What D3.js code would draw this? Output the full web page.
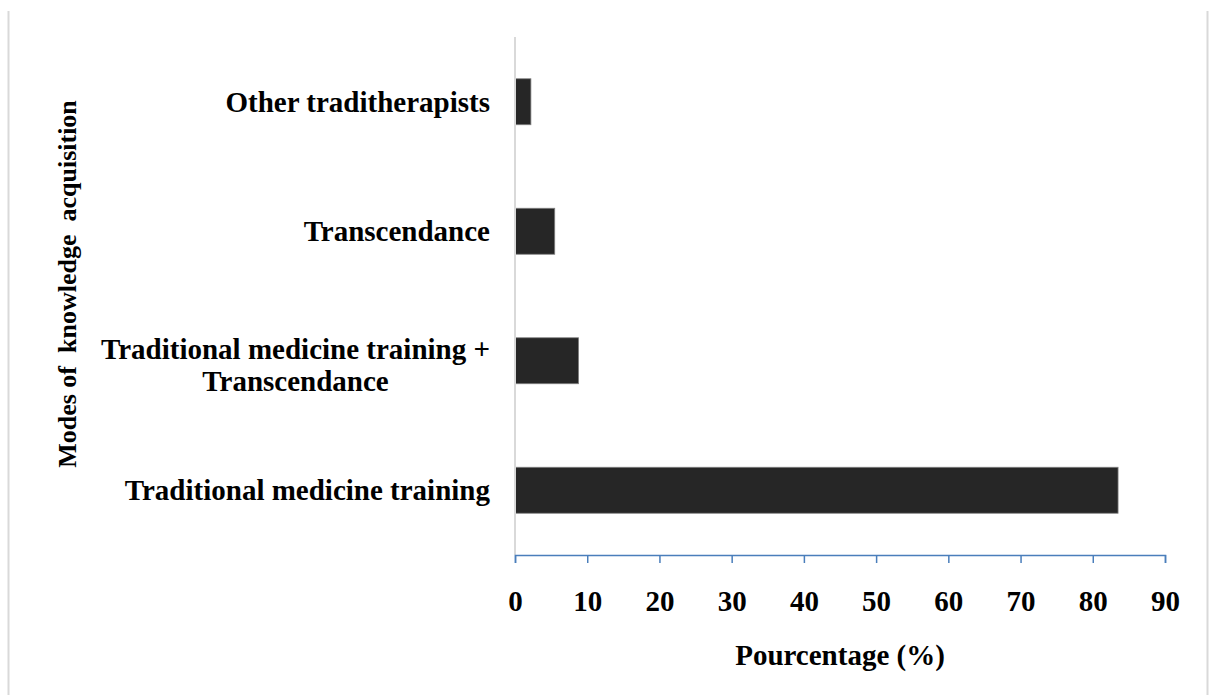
<!DOCTYPE html>
<html>
<head>
<meta charset="utf-8">
<script src="https://cdn.jsdelivr.net/npm/d3@7"></script>
<style>
  html, body { margin: 0; padding: 0; background: #fff; }
  svg { display: block; }
  text { font-family: "Liberation Serif", "Times New Roman", serif; font-weight: bold; fill: #000; }
</style>
</head>
<body>
<svg id="chart" width="1210" height="695"></svg>
<script>
// Data (bottom to top as drawn)
const categories = [
  ["Traditional medicine training"],
  ["Traditional medicine training +", "Transcendance"],
  ["Transcendance"],
  ["Other traditherapists"]
];
const values = [83.5, 8.8, 5.5, 2.2];
const xTicks = [0, 10, 20, 30, 40, 50, 60, 70, 80, 90];
const xTitle = "Pourcentage (%)";
const yTitle = "Modes of  knowledge  acquisition";

(function () {
const svg = d3.select("#chart");

// page frame lines
svg.append("line").attr("x1", 8.5).attr("x2", 8.5).attr("y1", 11).attr("y2", 695)
  .attr("stroke", "#d9d9d9").attr("stroke-width", 2);
svg.append("line").attr("x1", 1207.5).attr("x2", 1207.5).attr("y1", 11).attr("y2", 695)
  .attr("stroke", "#d9d9d9").attr("stroke-width", 2);

const pL = 515, pR = 1165, pT = 37, pB = 555;

const x = d3.scaleLinear().domain([0, 90]).range([pL, pR]);
const keys = categories.map((c, i) => i);
const y = d3.scaleBand().domain(keys).range([pB, pT]).paddingInner(0.645).paddingOuter(0.3225);

// bars
svg.append("g").selectAll("rect").data(values).join("rect")
  .attr("x", x(0))
  .attr("y", (d, i) => y(i))
  .attr("width", d => x(d) - x(0))
  .attr("height", y.bandwidth())
  .attr("fill", "#262626")
  .attr("stroke", "#7f7f7f")
  .attr("stroke-width", 0.8);

// vertical category axis line
svg.append("line").attr("x1", pL).attr("x2", pL).attr("y1", pT).attr("y2", pB)
  .attr("stroke", "#d9d9d9").attr("stroke-width", 2);

// x axis
const xAxis = d3.axisBottom(x).tickValues(xTicks).tickSize(8).tickSizeOuter(8).tickPadding(27).tickFormat(d3.format("d"));
const gx = svg.append("g").attr("transform", `translate(0,${pB})`).call(xAxis);
gx.select(".domain").attr("stroke", "#4a7ebb").attr("stroke-width", 1.5);
gx.selectAll(".tick line").attr("stroke", "#4a7ebb").attr("stroke-width", 1.5);
gx.selectAll(".tick text")
  .style("font-family", '"Liberation Serif", "Times New Roman", serif')
  .style("font-weight", "bold")
  .style("font-size", "29px")
  .attr("fill", "#000");

// category labels
const labelX = 490;
const fs = 29;
categories.forEach((lines, i) => {
  const cy = y(i) + y.bandwidth() / 2;
  const n = lines.length;
  const lh = 32;
  const off = n > 1 ? 4 : 0;
  const g = svg.append("g");
  const t0 = g.append("text").attr("x", labelX).attr("text-anchor", "end")
    .attr("font-size", fs + "px")
    .attr("y", cy + off - (n - 1) * lh / 2).attr("dy", "0.35em").text(lines[0]);
  if (n > 1) {
    const w = t0.node().getComputedTextLength();
    const mid = labelX - w / 2;
    for (let k = 1; k < n; k++) {
      g.append("text").attr("x", mid).attr("text-anchor", "middle")
        .attr("font-size", fs + "px")
        .attr("y", cy + off - (n - 1) * lh / 2 + k * lh).attr("dy", "0.35em").text(lines[k]);
    }
  }
});

// x title
svg.append("text").attr("x", 840).attr("y", 655).attr("dy", "0.35em")
  .attr("text-anchor", "middle").attr("font-size", "29px").text(xTitle);

// y title
svg.append("text").attr("transform", "translate(67,284) rotate(-90)")
  .attr("text-anchor", "middle").attr("dy", "0.35em")
  .attr("font-size", "26px").attr("xml:space", "preserve").style("white-space", "pre")
  .text(yTitle);
})();
</script>
</body>
</html>
